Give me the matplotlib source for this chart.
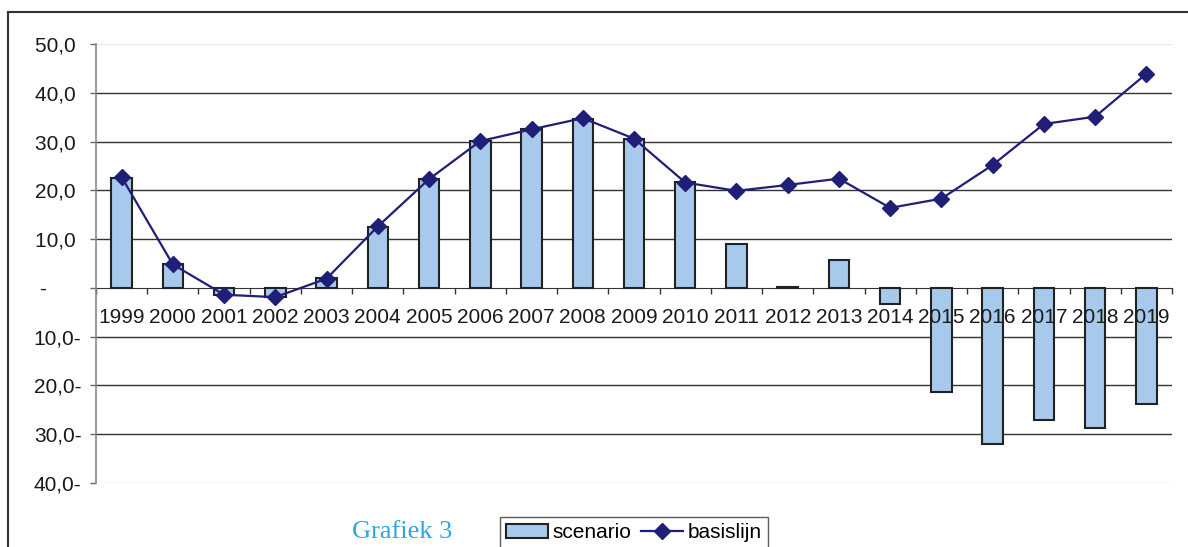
import numpy as np
import matplotlib
matplotlib.use("Agg")
import matplotlib.pyplot as plt
from matplotlib.lines import Line2D

plt.rcParams['font.family'] = ['Liberation Sans', 'DejaVu Sans']

years = [str(y) for y in range(1999, 2020)]
scenario = [22.5, 4.9, -1.4, -1.8, 2.0, 12.5, 22.3, 30.1, 32.6, 34.6, 30.5,
            21.7, 9.0, 0.2, 5.7, -3.3, -21.3, -32.0, -27.0, -28.7, -23.8]
basislijn = [22.7, 4.8, -1.4, -1.9, 1.9, 12.6, 22.3, 30.1, 32.5, 34.8, 30.6,
             21.6, 19.9, 21.1, 22.4, 16.4, 18.3, 25.2, 33.6, 35.1, 43.9]
yticks = [50, 40, 30, 20, 10, 0, -10, -20, -30, -40]
ylabels = ["50,0 ", "40,0 ", "30,0 ", "20,0 ", "10,0 ", "-\u2007\u2007\u2007",
           "10,0-", "20,0-", "30,0-", "40,0-"]

fig = plt.figure(figsize=(11.88, 5.47), dpi=100)
ax = fig.add_axes([96/1188, 1-483/547, (1172-96)/1188, (483-44)/547])

x = np.arange(len(years))
bars = ax.bar(x, scenario, width=0.4, color='#a7c9ec', edgecolor='#222222',
              linewidth=1.5, zorder=2, label='scenario')
line, = ax.plot(x, basislijn, color='#1f1f78', marker='D', markersize=8.5, linewidth=1.6,
                zorder=3, label='basislijn')

ax.set_xlim(-0.5, len(years) - 0.5)
ax.set_ylim(-40, 50)

# gridlines
for v in yticks:
    if v in (50, -40):
        ax.axhline(v, color='#e8e8e8', linewidth=1, zorder=0)
    elif v != 0:
        ax.axhline(v, color='#333333', linewidth=1, zorder=0)

ax.set_yticks(yticks)
ax.set_yticklabels(ylabels, fontsize=15, color='#1a1a1a')
ax.tick_params(axis='y', direction='out', length=4.5, width=1, color='#666666', pad=6)

# category axis on zero line
ax.spines['bottom'].set_position(('data', 0))
ax.spines['bottom'].set_color('#333333')
ax.spines['bottom'].set_zorder(1)
ax.set_xticks(x)
ax.set_xticklabels([])
ax.tick_params(axis='x', which='major', length=0)
ax.set_xticks(np.arange(-0.5, len(years)), minor=True)
ax.tick_params(axis='x', which='minor', direction='out', length=4.5, width=1, color='#333333')
for xi, yr in zip(x, years):
    ax.annotate(yr, xy=(xi, 0), xytext=(0, -21.5), textcoords='offset points',
                ha='center', va='center', fontsize=15, color='#1a1a1a', zorder=5)

ax.spines['left'].set_color('#888888')
ax.spines['left'].set_linewidth(1.2)
ax.spines['top'].set_visible(False)
ax.spines['right'].set_visible(False)

# outer frame lines
fig.add_artist(Line2D([8/1188, 1], [1-12/547, 1-12/547], color='#333333', linewidth=1.5))
fig.add_artist(Line2D([8/1188, 8/1188], [0, 1-12/547], color='#333333', linewidth=1.5))

fig.text(402/1188, 1-532/547, "Grafiek 3", family=['Liberation Serif', 'DejaVu Serif'],
         fontsize=19, color='#2ea6df', ha='center', va='center')

leg = fig.legend([bars, line], ['scenario', 'basislijn'], loc='upper left',
                 bbox_to_anchor=(500/1188, 1-517/547), ncol=2,
                 fontsize=15, frameon=True, fancybox=False, handlelength=2.0,
                 handletextpad=0.2, columnspacing=0.5, borderpad=0.3,
                 borderaxespad=0)
leg.get_frame().set_edgecolor('#333333')
leg.get_frame().set_linewidth(1)

fig.savefig("out.png", dpi=100)
